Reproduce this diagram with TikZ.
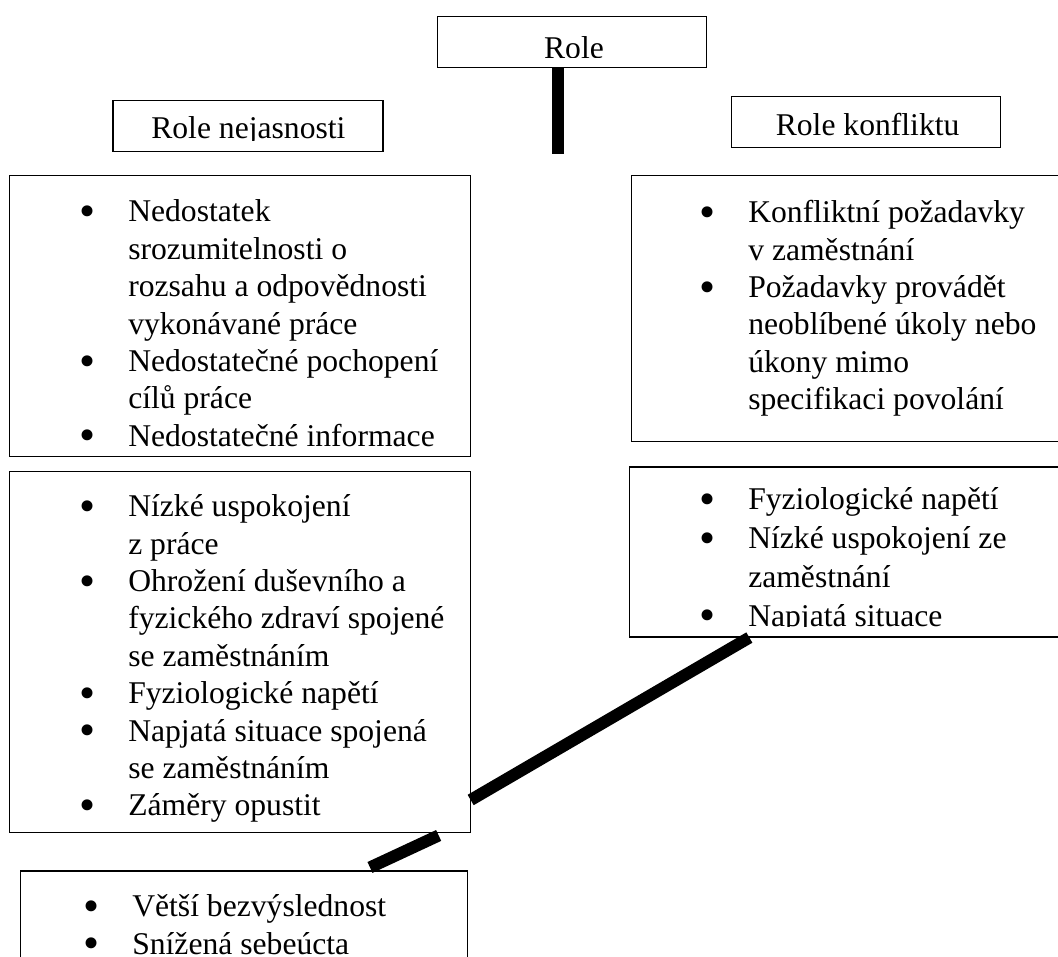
\documentclass[tikz,border=0pt]{standalone}
\usepackage{fontspec}
\usepackage{graphicx}
\setmainfont{Liberation Serif}
\newcommand{\itembul}{\llap{\raisebox{-3.2pt}{\scalebox{1.45}{\textbullet}}\hspace{0.825cm}}}

\begin{document}
\begin{tikzpicture}
  \tikzstyle{frame}=[draw,line width=0.8pt,inner sep=0,rectangle]
  \tikzstyle{txt}=[inner sep=0,anchor=base west,font=\fontsize{22.5}{26.6}\selectfont]
  \tikzstyle{head}=[inner sep=0,anchor=base,font=\fontsize{22.5}{26.6}\selectfont]
  \tikzstyle{bar}=[line width=0.3cm]
  \clip (0,0) rectangle (26.45,23.9) ;
  % boxes
  \node [frame,minimum width=6.725cm,minimum height=1.275cm] (role) at (14.31,22.84) {} ;
  \node [frame,minimum width=6.75cm,minimum height=1.275cm] (ambig) at (6.2,20.76) {} ;
  \node [frame,minimum width=6.725cm,minimum height=1.275cm] (confl) at (21.66,20.86) {} ;
  \node [frame,minimum width=11.525cm,minimum height=7.025cm] (ambigcause) at (5.99,15.99) {} ;
  \node [frame,minimum width=11.525cm,minimum height=6.65cm] (conflcause) at (21.56,16.18) {} ;
  \node [frame,minimum width=11.525cm,minimum height=9.025cm] (ambigeffect) at (5.99,7.59) {} ;
  \node [frame,minimum width=11.525cm,minimum height=4.25cm] (confleffect) at (21.51,10.10) {} ;
  \node [frame,minimum width=11.175cm,minimum height=3.25cm] (result) at (6.09,0.5) {} ;
  % texts, cut off at the bottom like the boxes of the original
  \begin{scope}
    \clip (role.south west) ++(0,0.28) rectangle (role.north east) ;
    \node [head] (roletext) at (14.35,22.43) {Role} ;
  \end{scope}
  \begin{scope}
    \clip (ambig.south west) ++(0,0.28) rectangle (ambig.north east) ;
    \node [head] (ambigtext) at (6.21,20.43) {Role nejasnosti} ;
  \end{scope}
  \begin{scope}
    \clip (confl.south west) ++(0,0.28) rectangle (confl.north east) ;
    \node [head] (confltext) at (21.69,20.51) {Role konfliktu} ;
  \end{scope}
  \begin{scope}
    \clip (ambigcause.south west) ++(0,0.28) rectangle (ambigcause.north east) ;
    \node [txt] (ambigcausetext) at (3.2,18.35) {\begin{tabular}[t]{@{}l@{}}
      \itembul Nedostatek\\ srozumitelnosti o\\ rozsahu a odpovědnosti\\ vykonávané práce\\
      \itembul Nedostatečné pochopení\\ cílů práce\\
      \itembul Nedostatečné informace\end{tabular}} ;
  \end{scope}
  \begin{scope}
    \clip (conflcause.south west) ++(0,0.28) rectangle (conflcause.north east) ;
    \node [txt] (conflcausetext) at (18.7,18.33) {\begin{tabular}[t]{@{}l@{}}
      \itembul Konfliktní požadavky\\ v zaměstnání\\
      \itembul Požadavky provádět\\ neoblíbené úkoly nebo\\ úkony mimo\\ specifikaci povolání\end{tabular}} ;
  \end{scope}
  \begin{scope}
    \clip (ambigeffect.south west) ++(0,0.28) rectangle (ambigeffect.north east) ;
    \node [txt] (ambigeffecttext) at (3.2,10.98) {\begin{tabular}[t]{@{}l@{}}
      \itembul Nízké uspokojení\\ z práce\\
      \itembul Ohrožení duševního a\\ fyzického zdraví spojené\\ se zaměstnáním\\
      \itembul Fyziologické napětí\\
      \itembul Napjatá situace spojená\\ se zaměstnáním\\
      \itembul Záměry opustit\end{tabular}} ;
  \end{scope}
  \begin{scope}
    \clip (confleffect.south west) ++(0,0.28) rectangle (confleffect.north east) ;
    \node [txt,font=\fontsize{22.5}{27.6}\selectfont] (confleffecttext) at (18.7,11.15) {\begin{tabular}[t]{@{}l@{}}
      \itembul Fyziologické napětí\\
      \itembul Nízké uspokojení ze\\ zaměstnání\\
      \itembul Napjatá situace\end{tabular}} ;
  \end{scope}
  \node [txt] (resulttext) at (3.3,0.98) {\begin{tabular}[t]{@{}l@{}}
    \itembul Větší bezvýslednost\\
    \itembul Snížená sebeúcta\end{tabular}} ;
  % thick connectors
  \coordinate (stem) at (13.95,20.05) ;
  \draw [bar] (role.south -| stem) -- (stem) ;
  \draw [bar] ([xshift=3cm]confleffect.south west) -- ([yshift=-3.69cm]ambigeffect.east) ;
  \draw [bar] ([xshift=-0.8cm,yshift=-0.05cm]ambigeffect.south east) -- ([xshift=3.16cm,yshift=0.075cm]result.north) ;
\end{tikzpicture}
\end{document}
